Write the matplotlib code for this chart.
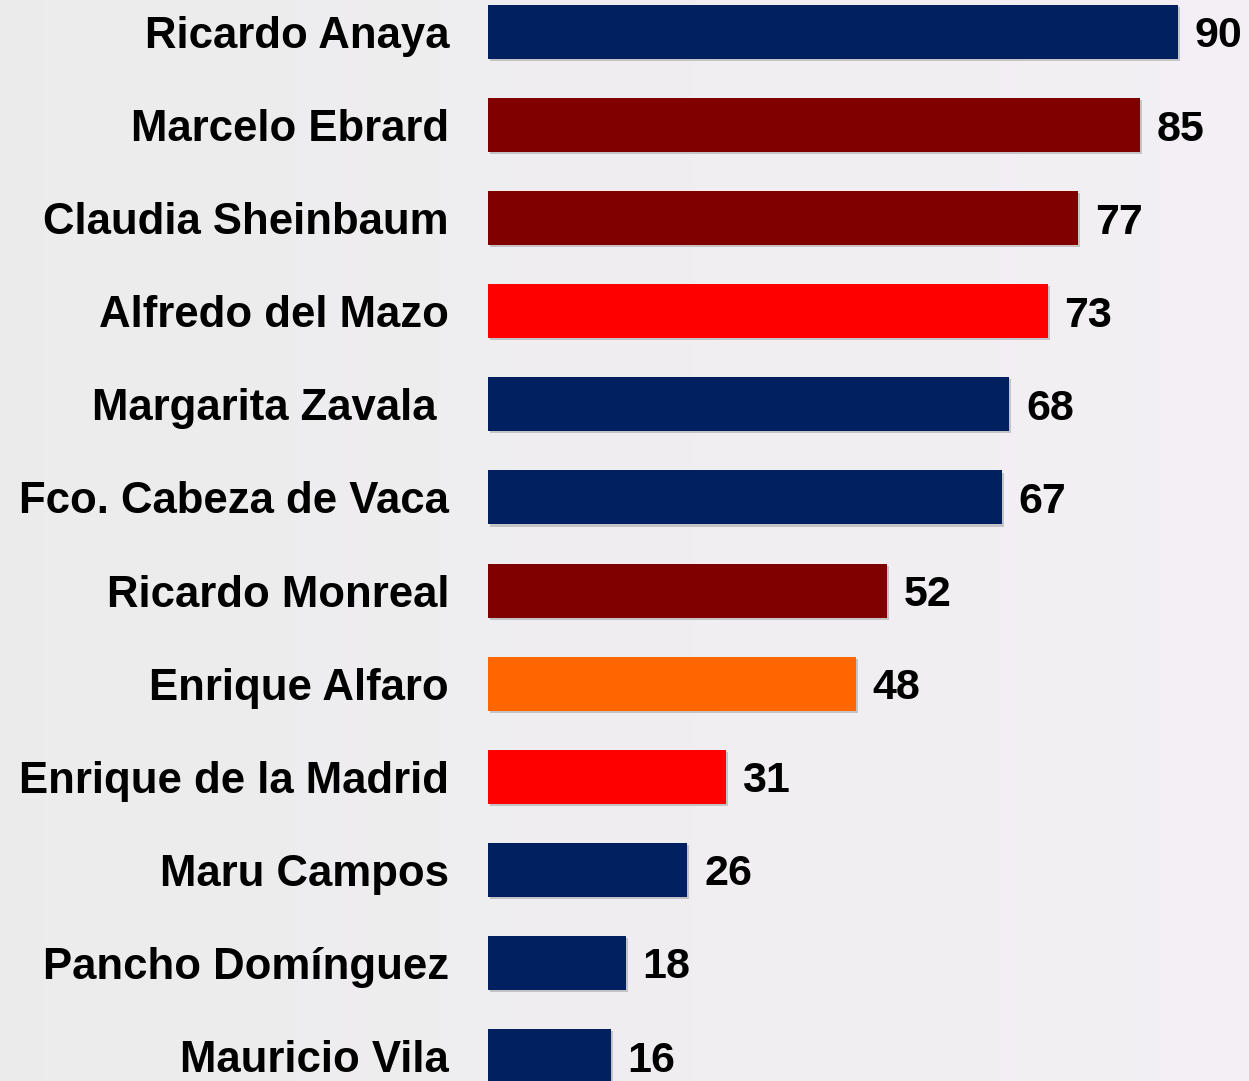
import numpy as np
import matplotlib.pyplot as plt
import matplotlib.patheffects as pe

names = ["Ricardo Anaya", "Marcelo Ebrard", "Claudia Sheinbaum", "Alfredo del Mazo",
         "Margarita Zavala ", "Fco. Cabeza de Vaca", "Ricardo Monreal", "Enrique Alfaro",
         "Enrique de la Madrid", "Maru Campos", "Pancho Domínguez", "Mauricio Vila"]
values = [90, 85, 77, 73, 68, 67, 52, 48, 31, 26, 18, 16]
colors = ["#002060", "#800000", "#800000", "#FF0000", "#002060", "#002060",
          "#800000", "#FF6600", "#FF0000", "#002060", "#002060", "#002060"]

W, H = 1249, 1081
fig = plt.figure(figsize=(W / 100, H / 100), dpi=100)

# soft background gradient
bg = fig.add_axes([0, 0, 1, 1], zorder=0)
gx = np.linspace(0, 1, 256)
grad = np.zeros((2, 256, 3))
left = np.array([0.925, 0.925, 0.925])
right = np.array([0.955, 0.94, 0.96])
for k in range(3):
    grad[:, :, k] = left[k] + (right[k] - left[k]) * gx
bg.imshow(grad, aspect="auto", extent=[0, 1, 0, 1])
bg.axis("off")

ax = fig.add_axes([488 / W, 0, (W - 488) / W, 1], zorder=1)
ax.patch.set_alpha(0)
px = 90 / (1178 - 488)
ax.set_xlim(0, (W - 488) * px)
step = 93.1
ax.set_ylim(11 + 25 / step, -32 / step)

y = np.arange(len(names))
bars = ax.barh(y, values, height=54 / step, color=colors)
for b in bars:
    b.set_path_effects([pe.SimplePatchShadow(offset=(1.5, -1.5), alpha=0.25, shadow_rgbFace="#444444"),
                        pe.Normal()])

for yi, v in zip(y, values):
    ax.annotate(str(v), (v, yi), xytext=(12, 0), textcoords="offset points",
                ha="left", va="center_baseline", fontsize=31, fontweight="bold",
                family="Liberation Sans", color="black")

ax.set_yticks(y)
ax.set_yticklabels(names, fontsize=31.5, fontweight="bold", family="Liberation Sans",
                   va="center_baseline")
ax.tick_params(axis="y", length=0, pad=28)
ax.set_xticks([])
for s in ax.spines.values():
    s.set_visible(False)

fig.savefig("out.png", dpi=100)
